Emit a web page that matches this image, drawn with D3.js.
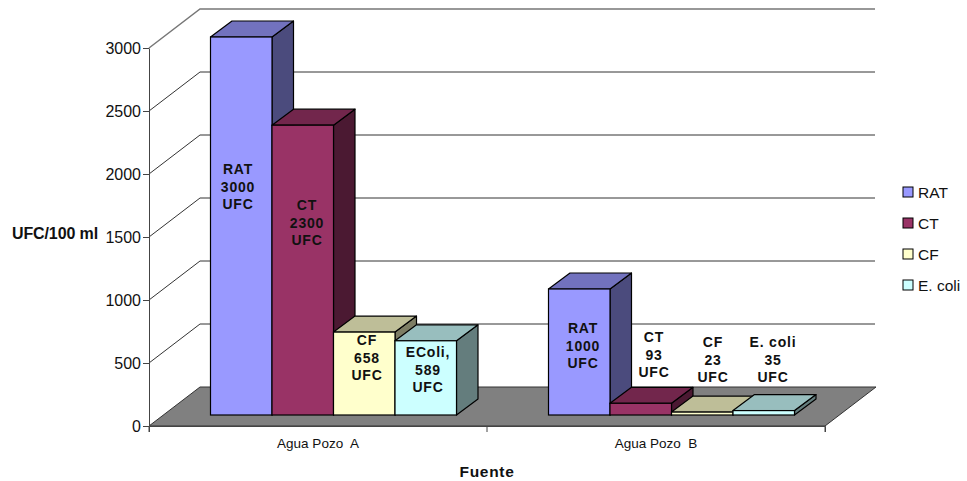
<!DOCTYPE html>
<html>
<head>
<meta charset="utf-8">
<script src="https://cdn.jsdelivr.net/npm/d3@7"></script>
<style>
body{margin:0;background:#fff;}
svg{display:block;}
text{font-family:"Liberation Sans",Arial,sans-serif;fill:#111;}
.domain{stroke:#444;}
.tick line{stroke:#444;}
</style>
</head>
<body>
<script>
var categories = ["Agua Pozo  A","Agua Pozo  B"];
var seriesNames = ["RAT","CT","CF","E. coli"];
var seriesColors = ["#9999ff","#993366","#ffffcc","#ccffff"];
var valuesRAT = [3000,1000];
var valuesCT = [2300,93];
var valuesCF = [658,23];
var valuesEColi = [589,35];
var yTicks = [0,500,1000,1500,2000,2500,3000];
var labelsA = [["RAT","3000","UFC"],["CT","2300","UFC"],["CF","658","UFC"],["EColi,","589","UFC"]];
var labelsB = [["RAT","1000","UFC"],["CT","93","UFC"],["CF","23","UFC"],["E. coli","35","UFC"]];

// labels were dragged by hand in the original, so each has its own spot
var labelSpotsA = [[238,174],[307,210],[367,345],[428,357]];
var labelSpotsB = [[583,333],[654,342],[713,347],[773,347]];

var WIDTH = 967, HEIGHT = 481;
var AXIS_X = 149, FLOOR_RIGHT = 825, Y_ZERO = 426, Y_TOP = 48;
var WALL_DX = 51, WALL_DY = -39;
var BAR_DX = 21.5, BAR_DY = -16, BAR_BASE_SHIFT = -11;
var GROUP_PAD = 61.5, GROUP_WIDTH = 246;

var allValues = [valuesRAT,valuesCT,valuesCF,valuesEColi];

var _svg = d3.select("body").append("svg").attr("width",WIDTH).attr("height",HEIGHT);

var _yScale = d3.scaleLinear().domain([0,3000]).range([Y_ZERO,Y_TOP]);
var _xGroup = d3.scaleBand().domain(categories).range([AXIS_X,FLOOR_RIGHT]);
var _xBar = d3.scaleBand().domain(seriesNames).range([0,GROUP_WIDTH]);

var line = d3.line();

// gridlines on the back walls
_svg.append("g").selectAll("path").data(yTicks.slice(1)).enter().append("path")
	.attr("fill","none")
	.attr("stroke",function(d){return d==3000 ? "#777" : "#333"})
	.attr("stroke-width",function(d){return d==3000 ? 1.5 : 1})
	.attr("d",function(d){
		var y = _yScale(d);
		return line([[AXIS_X,y],[AXIS_X+WALL_DX,y+WALL_DY],[FLOOR_RIGHT+WALL_DX-1,y+WALL_DY]]);
	});

// floor
_svg.append("path")
	.attr("fill","#808080")
	.attr("stroke","#333")
	.attr("d",line([[AXIS_X,Y_ZERO],[AXIS_X+WALL_DX,Y_ZERO+WALL_DY],[FLOOR_RIGHT+WALL_DX,Y_ZERO+WALL_DY],[FLOOR_RIGHT,Y_ZERO]])+"Z");

// axes
var yAxis = d3.axisLeft(_yScale).tickValues(yTicks).tickSize(6).tickSizeOuter(0).tickFormat(d3.format("d"));
var yG = _svg.append("g").attr("transform","translate("+AXIS_X+",0)").call(yAxis);
yG.selectAll("text").attr("font-size",16).attr("x",-8).style("font-family",'"Liberation Sans"');

var xAxis = d3.axisBottom(_xGroup).tickSize(0).tickSizeOuter(6);
var xG = _svg.append("g").attr("transform","translate(0,"+Y_ZERO+")").call(xAxis);
xG.selectAll("text").attr("font-size",13.5).attr("y",22).attr("dy",0)
	.style("font-family",'"Liberation Sans"').style("white-space","pre");
xG.selectAll(".edgeTick").data([AXIS_X,AXIS_X+_xGroup.bandwidth(),FLOOR_RIGHT]).enter().append("line")
	.classed("edgeTick",true)
	.attr("x1",function(d){return d}).attr("x2",function(d){return d})
	.attr("y1",0).attr("y2",6)
	.attr("stroke","#444");

var shade = function(c,k){return d3.rgb(c).darker(k).formatHex()};

// bars, left to right so the later ones cover the earlier sides
var bars = [];
categories.forEach(function(cat,ci){
	seriesNames.forEach(function(name,si){
		bars.push({cat:cat,name:name,color:seriesColors[si],value:allValues[si][ci]});
	});
});

var barG = _svg.append("g").selectAll("g").data(bars).enter().append("g");

var barBox = function(d){
	var x = _xGroup(d.cat)+GROUP_PAD+_xBar(d.name);
	return {x:x,w:_xBar.bandwidth(),top:_yScale(d.value)+BAR_BASE_SHIFT,base:_yScale(0)+BAR_BASE_SHIFT};
};

barG.append("path")
	.attr("fill",function(d){return shade(d.color,2)})
	.attr("stroke","#000")
	.attr("stroke-width",1.2)
	.attr("stroke-linejoin","round")
	.attr("d",function(d){
		var b = barBox(d), r = b.x+b.w;
		return line([[r,b.top],[r+BAR_DX,b.top+BAR_DY],[r+BAR_DX,b.base+BAR_DY],[r,b.base]])+"Z";
	});

barG.append("path")
	.attr("fill",function(d){return shade(d.color,0.83)})
	.attr("stroke","#000")
	.attr("stroke-width",1.2)
	.attr("stroke-linejoin","round")
	.attr("d",function(d){
		var b = barBox(d), r = b.x+b.w;
		return line([[b.x,b.top],[b.x+BAR_DX,b.top+BAR_DY],[r+BAR_DX,b.top+BAR_DY],[r,b.top]])+"Z";
	});

barG.append("rect")
	.attr("fill",function(d){return d.color})
	.attr("stroke","#000")
	.attr("stroke-width",1.2)
	.attr("x",function(d){return barBox(d).x})
	.attr("y",function(d){return barBox(d).top})
	.attr("width",function(d){return barBox(d).w})
	.attr("height",function(d){var b = barBox(d); return b.base-b.top});

// data labels
var drawLabels = function(labels,spots){
	labels.forEach(function(lines,i){
		var t = _svg.append("text")
			.attr("text-anchor","middle")
			.attr("font-size",14)
			.attr("font-weight","bold")
			.attr("letter-spacing",0.8);
		t.selectAll("tspan").data(lines).enter().append("tspan")
			.attr("x",spots[i][0])
			.attr("y",function(d,j){return spots[i][1]+j*17.7})
			.text(function(d){return d});
	});
};
drawLabels(labelsA,labelSpotsA);
drawLabels(labelsB,labelSpotsB);

// axis titles
_svg.append("text").attr("x",55).attr("y",239).attr("text-anchor","middle")
	.attr("font-size",16).attr("font-weight","bold").attr("letter-spacing",-0.1).text("UFC/100 ml");
_svg.append("text").attr("x",487).attr("y",477).attr("text-anchor","middle")
	.attr("font-size",15.5).attr("font-weight","bold").attr("letter-spacing",0.7).text("Fuente");

// legend
var legendY = d3.scalePoint().domain(seriesNames).range([192,285]);
var legend = _svg.append("g").selectAll("g").data(seriesNames).enter().append("g")
	.attr("transform",function(d){return "translate(903,"+legendY(d)+")"});
legend.append("rect")
	.attr("x",0).attr("y",-5).attr("width",10).attr("height",10)
	.attr("stroke","#000")
	.attr("fill",function(d,i){return seriesColors[i]});
legend.append("text")
	.attr("x",15).attr("y",5.5)
	.attr("font-size",15.5)
	.text(function(d){return d});
</script>
</body>
</html>
